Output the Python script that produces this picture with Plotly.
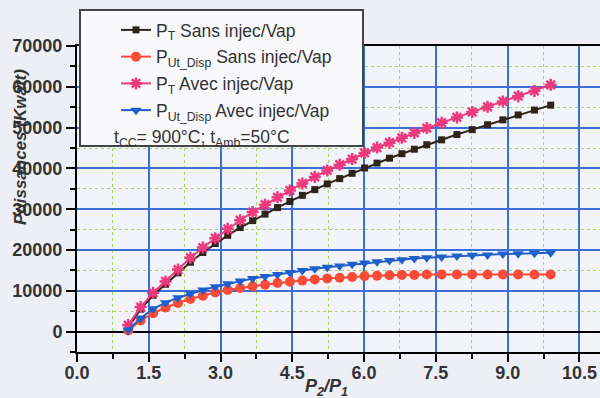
import plotly.graph_objects as go

# ---- data ----
p_ratio = [1.07, 1.33, 1.59, 1.85, 2.11, 2.37, 2.63, 2.89, 3.15, 3.41, 3.67,
           3.93, 4.19, 4.45, 4.71, 4.97, 5.23, 5.49, 5.75, 6.01, 6.27, 6.53,
           6.79, 7.05, 7.31, 7.62, 7.94, 8.26, 8.58, 8.90, 9.22, 9.56, 9.90]

pt_sans = [1000, 5500, 8900, 11600, 14400, 17000, 19400, 21600, 23600, 25500,
           27200, 28800, 30400, 31900, 33400, 34800, 36200, 37500, 38800,
           40100, 41300, 42500, 43600, 44700, 45800, 47000, 48300, 49500,
           50700, 51900, 53100, 54300, 55500]

put_sans = [300, 2700, 4500, 5900, 7000, 8000, 8800, 9600, 10200, 10700,
            11100, 11500, 11900, 12200, 12500, 12800, 13000, 13200, 13400,
            13600, 13700, 13800, 13900, 13900, 14000, 14000, 14000, 14000,
            14000, 14000, 14000, 14000, 14000]

pt_avec = [1600, 6000, 9500, 12300, 15200, 18100, 20600, 22900, 25200, 27300,
           29300, 31100, 32900, 34600, 36300, 37900, 39500, 40900, 42300,
           43800, 45100, 46300, 47500, 48700, 49900, 51200, 52500, 53800,
           55100, 56400, 57700, 59000, 60500]

put_avec = [400, 3300, 5600, 7100, 8300, 9300, 10200, 11000, 11700, 12400,
            13000, 13500, 14000, 14500, 15000, 15400, 15800, 16100, 16500,
            16800, 17100, 17400, 17600, 17900, 18100, 18300, 18500, 18700,
            18800, 19000, 19100, 19200, 19300]

names = ["P<sub>T</sub> Sans injec/Vap",
         "P<sub>Ut_Disp</sub> Sans injec/Vap",
         "P<sub>T</sub> Avec injec/Vap",
         "P<sub>Ut_Disp</sub> Avec injec/Vap"]
note_text = "t<sub>CC</sub>= 900°C; t<sub>Amb</sub>=50°C"
x_title = "<b><i>P<sub>2</sub>/P<sub>1</sub></i></b>"
y_title = "<b><i>Puissances (Kwatt)</i></b>"

FONT = "Liberation Sans, Arial, sans-serif"
TXT = "#333333"

fig = go.Figure()
fig.add_trace(go.Scatter(x=p_ratio, y=pt_sans, name=names[0], mode="lines+markers",
                         legendgroup="a",
                         line=dict(color="#2e2419", width=2),
                         marker=dict(symbol="square", size=7, color="#2e2419")))
fig.add_trace(go.Scatter(x=p_ratio, y=put_sans, name=names[1], mode="lines+markers",
                         legendgroup="b",
                         line=dict(color="#fa4a38", width=2),
                         marker=dict(symbol="circle", size=10, color="#fa4a38")))
fig.add_trace(go.Scatter(x=p_ratio, y=pt_avec, name=names[2], mode="lines+markers",
                         legendgroup="c",
                         line=dict(color="#ec3a7c", width=2),
                         marker=dict(symbol="asterisk-open", size=10, color="#ec3a7c",
                                     line=dict(color="#ec3a7c", width=2.5))))
fig.add_trace(go.Scatter(x=p_ratio, y=put_avec, name=names[3], mode="lines+markers",
                         legendgroup="d",
                         line=dict(color="#1f5fcc", width=2),
                         marker=dict(symbol="triangle-down", size=10, color="#1f5fcc")))

axis_common = dict(
    showline=True, linecolor="black", linewidth=2, mirror=True,
    ticks="outside", tickwidth=2, tickcolor="black",
    showgrid=True, gridcolor="#3a6fd8", gridwidth=1.5,
    tickfont=dict(family=FONT, size=18, color=TXT, weight="bold"),
)

fig.update_xaxes(range=[0, 10.93], tick0=0, dtick=1.5, tickformat=".1f",
                 zeroline=False, ticklen=8, ticklabelstandoff=-5,
                 minor=dict(dtick=0.75, showgrid=True, gridcolor="#a8d65a",
                            griddash="dot", gridwidth=1, ticks="outside",
                            ticklen=5, tickwidth=2, tickcolor="black"),
                 **axis_common)
fig.update_yaxes(range=[-5000, 70000], tick0=0, dtick=10000, tickformat="d",
                 zeroline=True, zerolinecolor="black", zerolinewidth=1.5, ticklen=9,
                 minor=dict(dtick=5000, showgrid=True, gridcolor="#a8d65a",
                            griddash="dot", gridwidth=1, ticks="outside",
                            ticklen=5, tickwidth=2, tickcolor="black"),
                 **axis_common)

L, T, B, W, H = 77, 46, 46, 600, 398
PW, PH = W - L, H - T - B


def px(x):
    return (x - L) / PW


def py(y):
    return (H - B - y) / PH


fig.add_shape(type="rect", xref="paper", yref="paper",
              x0=px(80), x1=px(363), y0=py(146), y1=py(10),
              fillcolor="#f9f9fc", line=dict(color="#444444", width=2), layer="above")

fig.add_annotation(text=note_text, xref="paper", yref="paper", x=px(112), y=py(138),
                   xanchor="left", yanchor="middle", showarrow=False,
                   font=dict(family=FONT, size=17.5, color=TXT))
fig.add_annotation(text=x_title, xref="paper", yref="paper", x=px(326), y=py(387),
                   xanchor="center", yanchor="middle", showarrow=False,
                   font=dict(family=FONT, size=18, color=TXT))
fig.add_annotation(text=y_title, xref="paper", yref="paper", x=px(20), y=py(147),
                   xanchor="center", yanchor="middle", showarrow=False, textangle=-90,
                   font=dict(family=FONT, size=17, color=TXT))

fig.update_layout(
    width=W, height=H,
    margin=dict(l=L, r=0, t=T, b=B, autoexpand=False),
    paper_bgcolor="#eeeff5", plot_bgcolor="#f3f4f9",
    showlegend=True,
    legend=dict(x=px(116), y=py(12), xanchor="left", yanchor="top",
                traceorder="grouped", tracegroupgap=1,
                bgcolor="rgba(0,0,0,0)", borderwidth=0,
                font=dict(family=FONT, size=17.5, color=TXT)),
)

fig.write_html("out.html",
               config={"displayModeBar": False},
               post_script="document.body.style.margin='0px';"
                           "document.body.style.padding='0px';"
                           "document.body.style.overflow='hidden';")
